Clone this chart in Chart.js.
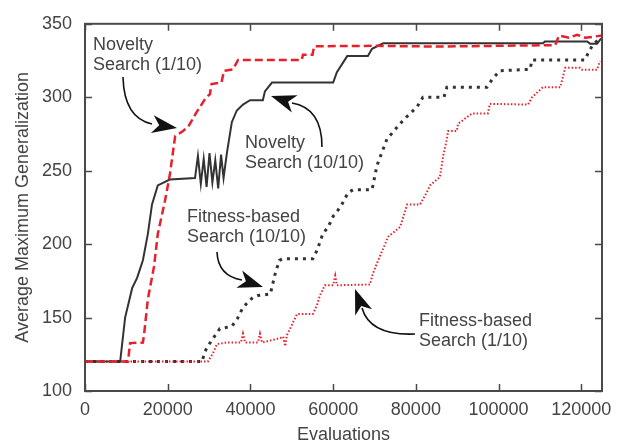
<!DOCTYPE html>
<html>
<head>
<meta charset="utf-8">
<script src="https://cdn.jsdelivr.net/npm/chart.js@4.4.1/dist/chart.umd.min.js"></script>
<style>
  html, body { margin: 0; padding: 0; background: #fff; }
  #wrap { width: 627px; height: 446px; }
</style>
</head>
<body>
<div id="wrap"><canvas id="chart" width="627" height="446"></canvas></div>
<script>
// =============================
// Data
// =============================
const novelty10X = [0, 8500, 9700, 11400, 12600, 14000, 15200, 16200, 17600, 20500, 26600, 27300, 28000, 28700, 29400, 30100, 30800, 31500, 32200, 32900, 33500, 34300, 35500, 36700, 38200, 39900, 43000, 43500, 45200, 60000, 60900, 63400, 68400, 69400, 72100, 110700, 111200, 121400, 122100, 123800, 124800];
const novelty10Y = [120, 120, 150, 170, 177, 189, 207, 227, 240, 244, 245, 260, 241, 258, 239, 262, 242, 257, 238, 261, 245, 262, 283, 291, 295, 298, 298, 304, 310, 310, 317, 328, 328, 333, 336.7, 336.7, 338, 338, 336.5, 336.5, 340];

const novelty1X = [0, 10400, 10900, 14000, 14300, 15200, 16700, 17600, 19300, 20500, 21800, 23700, 25000, 26800, 29300, 30200, 30600, 33000, 33600, 35800, 37000, 52400, 52700, 55000, 55400, 70000, 85000, 100000, 113700, 114600, 117000, 119000, 121000, 125000];
const novelty1Y = [120, 120, 132.6, 133, 139, 162.5, 185, 207, 229, 247, 273.5, 277, 280, 289, 300, 302, 309, 310, 318, 319, 325.4, 325.4, 329, 329, 334.7, 335, 334.5, 335, 335.5, 342, 340.5, 342.5, 340.5, 342];

const fitness10X = [0, 28300, 29000, 30200, 32600, 35500, 36800, 38200, 40600, 41800, 44800, 46000, 47000, 47900, 55100, 56100, 57500, 58800, 60000, 60900, 62100, 63600, 64800, 69400, 70600, 73000, 76200, 77900, 80300, 81700, 86800, 87500, 97200, 98400, 100300, 107600, 108100, 120900, 121800, 122600, 124000, 124800];
const fitness10Y = [120, 120, 127, 132.6, 142.5, 144, 149, 157, 163.8, 165, 166, 180, 189, 190, 190, 195.8, 207, 211.7, 219, 222, 227, 235, 237, 237, 253.6, 271.5, 282, 287, 293.5, 300, 300, 306.8, 306.8, 312, 318, 319, 325.4, 325.4, 331, 334.7, 339, 339];

const fitness1X = [0, 29700, 31000, 31900, 34300, 37700, 38200, 38700, 41800, 42300, 42800, 47200, 47900, 48400, 48800, 49600, 51300, 55100, 56100, 56800, 58000, 60000, 60500, 60900, 68900, 69600, 70600, 73300, 76200, 76900, 77900, 81000, 82700, 83400, 85800, 86600, 87500, 87800, 89900, 90200, 93600, 97400, 97900, 107100, 108100, 110700, 114900, 116100, 119700, 120200, 123800, 124500];
const fitness1Y = [120, 120, 126, 132, 133, 133, 139, 133, 133, 139, 133, 136, 137, 130.5, 138, 142.5, 152.5, 152.5, 158.5, 165, 172, 172, 178.5, 172, 172.5, 180, 187, 205, 211.7, 218, 227, 227, 235.6, 240, 245.6, 260, 271.5, 277, 277, 282, 289, 289, 295.5, 295, 300, 306.8, 306.8, 320, 320, 318.7, 318.7, 324.7];

const xTickValues = [0, 20000, 40000, 60000, 80000, 100000, 120000];
const yTickValues = [100, 150, 200, 250, 300, 350];
const xRange = [0, 125000];
const yRange = [100, 350];

const xTitle = "Evaluations";
const yTitle = "Average Maximum Generalization";

function pts(xs, ys) {
  return xs.map((x, i) => ({ x: x, y: ys[i] }));
}

// =============================
// Styles
// =============================
const RED = "#e6202c";
const DARK = "#333333";
const TEXT = "#444444";
const AXIS = "#4a4a4a";
const FONT = "'Liberation Sans', Arial, Helvetica, sans-serif";

// =============================
// Annotations (pixel layout)
// =============================
const notes = [
  { lines: ["Novelty", "Search (1/10)"], x: 93, y: 50,
    curve: [123, 77, 124, 118, 152, 124], tip: [177, 128] },
  { lines: ["Novelty", "Search (10/10)"], x: 245, y: 148,
    curve: [322, 147, 322, 108, 292, 103], tip: [271, 96] },
  { lines: ["Fitness-based", "Search (10/10)"], x: 187, y: 222,
    curve: [217, 252, 218, 276, 242, 280], tip: [263, 287] },
  { lines: ["Fitness-based", "Search (1/10)"], x: 419, y: 326,
    curve: [415, 334, 370, 336, 362, 308], tip: [355, 289] }
];

function drawArrowHead(ctx, fromX, fromY, tipX, tipY) {
  const ang = Math.atan2(tipY - fromY, tipX - fromX);
  const len = 25, half = 9, notch = 7;
  ctx.save();
  ctx.translate(tipX, tipY);
  ctx.rotate(ang);
  ctx.beginPath();
  ctx.moveTo(0, 0);
  ctx.lineTo(-len, -half);
  ctx.lineTo(-len + notch, 0);
  ctx.lineTo(-len, half);
  ctx.closePath();
  ctx.fill();
  ctx.restore();
}

const frameAndNotes = {
  id: "frameAndNotes",
  afterDraw(chart) {
    const ctx = chart.ctx;
    const { left, right, top, bottom } = chart.chartArea;
    const xs = chart.scales.x, ys = chart.scales.y;

    // frame
    ctx.save();
    ctx.strokeStyle = AXIS;
    ctx.lineWidth = 2;
    ctx.strokeRect(left, top, right - left, bottom - top);

    // inward tick marks
    ctx.lineWidth = 1.5;
    ctx.beginPath();
    xs.ticks.forEach(t => {
      const px = Math.round(xs.getPixelForValue(t.value)) + 0.5;
      ctx.moveTo(px, bottom); ctx.lineTo(px, bottom - 7);
      ctx.moveTo(px, top); ctx.lineTo(px, top + 7);
    });
    ys.ticks.forEach(t => {
      const py = Math.round(ys.getPixelForValue(t.value)) + 0.5;
      ctx.moveTo(left, py); ctx.lineTo(left + 7, py);
      ctx.moveTo(right, py); ctx.lineTo(right - 7, py);
    });
    ctx.stroke();

    // annotations
    ctx.font = "18px " + FONT;
    ctx.textAlign = "left";
    ctx.textBaseline = "alphabetic";
    notes.forEach(n => {
      ctx.fillStyle = TEXT;
      n.lines.forEach((s, i) => ctx.fillText(s, n.x, n.y + i * 20));
      const c = n.curve;
      ctx.strokeStyle = "#111";
      ctx.lineWidth = 1.6;
      ctx.beginPath();
      ctx.moveTo(c[0], c[1]);
      ctx.quadraticCurveTo(c[2], c[3], c[4], c[5]);
      ctx.stroke();
      ctx.fillStyle = "#111";
      drawArrowHead(ctx, c[4], c[5], n.tip[0], n.tip[1]);
    });
    ctx.restore();
  }
};

// =============================
// Chart
// =============================
const chart = new Chart(document.getElementById("chart"), {
  type: "line",
  data: {
    datasets: [
      { label: "Novelty Search (1/10)", data: pts(novelty1X, novelty1Y),
        borderColor: RED, borderWidth: 2.5, borderDash: [8, 4] },
      { label: "Novelty Search (10/10)", data: pts(novelty10X, novelty10Y),
        borderColor: DARK, borderWidth: 2 },
      { label: "Fitness-based Search (1/10)", data: pts(fitness1X, fitness1Y),
        borderColor: RED, borderWidth: 2, borderDash: [1.5, 2] },
      { label: "Fitness-based Search (10/10)", data: pts(fitness10X, fitness10Y),
        borderColor: DARK, borderWidth: 3, borderDash: [3, 5] }
    ]
  },
  options: {
    responsive: false,
    animation: false,
    events: [],
    layout: { padding: { top: 15, right: 25, left: 0, bottom: 0 } },
    elements: {
      point: { radius: 0 },
      line: { tension: 0, fill: false, borderCapStyle: "butt" }
    },
    plugins: { legend: { display: false }, tooltip: { enabled: false } },
    scales: {
      x: {
        type: "linear",
        min: xRange[0],
        max: xRange[1],
        grid: { display: false, drawTicks: false },
        border: { display: false },
        ticks: {
          maxRotation: 0,
          autoSkip: false,
          padding: 8,
          color: TEXT,
          font: { family: FONT, size: 18 },
          callback: v => String(v)
        },
        afterBuildTicks: s => { s.ticks = xTickValues.map(v => ({ value: v })); },
        title: {
          display: true, text: xTitle, color: TEXT,
          font: { family: FONT, size: 18 },
          padding: { top: 0, bottom: 0 }
        },
        afterFit: s => { s.height = 55; }
      },
      y: {
        min: yRange[0],
        max: yRange[1],
        grid: { display: false, drawTicks: false },
        border: { display: false },
        ticks: {
          autoSkip: false,
          padding: 13,
          color: TEXT,
          font: { family: FONT, size: 18 },
          callback: v => String(v)
        },
        afterBuildTicks: s => { s.ticks = yTickValues.map(v => ({ value: v })); },
        title: {
          display: true, text: yTitle, color: TEXT,
          font: { family: FONT, size: 18 },
          padding: { top: 12, bottom: 0 }
        },
        afterFit: s => { s.width = 85; }
      }
    }
  },
  plugins: [frameAndNotes]
});
</script>
</body>
</html>
